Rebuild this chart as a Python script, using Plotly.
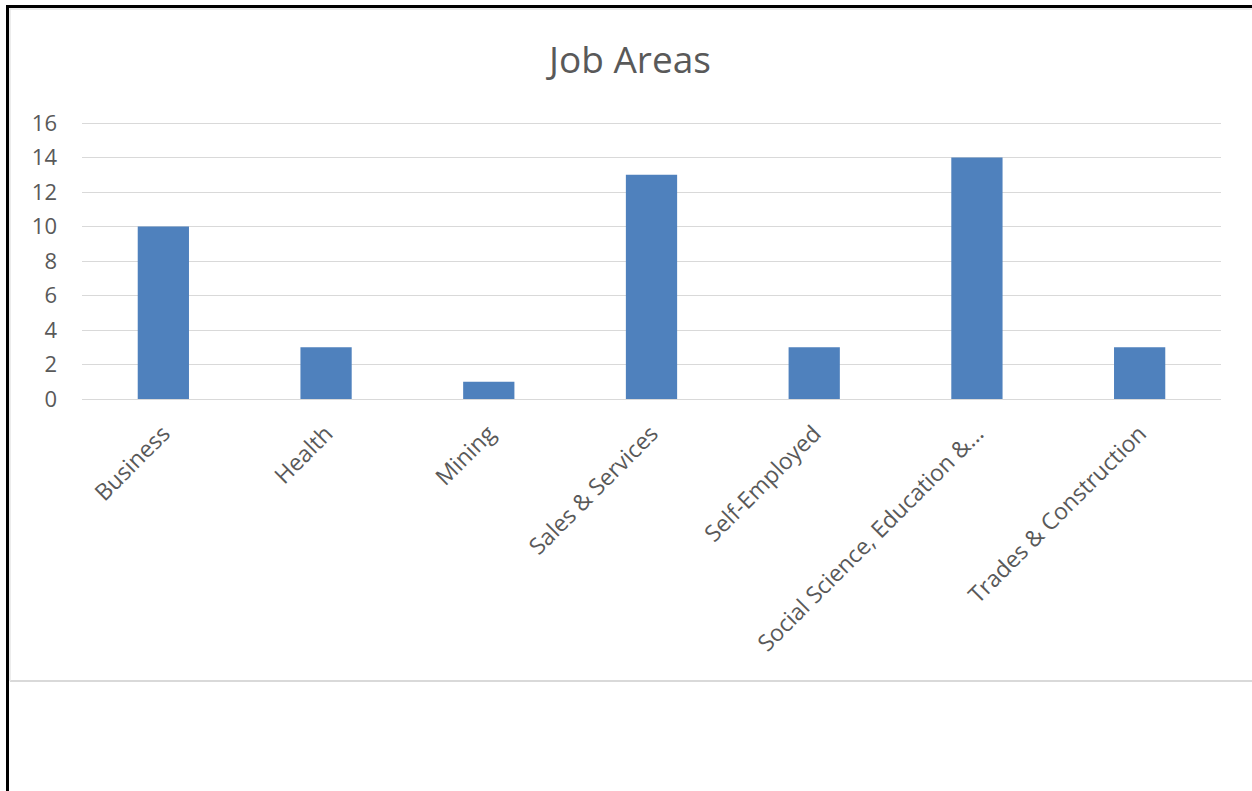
import plotly.graph_objects as go

categories = ["Business", "Health", "Mining", "Sales & Services", "Self-Employed",
              "Social Science, Education &...", "Trades & Construction"]
values = [10, 3, 1, 13, 3, 14, 3]
y_ticks = [0, 2, 4, 6, 8, 10, 12, 14, 16]

W, H = 1252, 791
L, R, T, B = 82, 1221, 121, 399  # plot area in pixels
Y_TOP = 16 + (123 - T) / ((B - 123) / 16)  # so that 16 sits at pixel 123
FONT = "Open Sans, Lato, sans-serif"


def px(x):
    return (x - L) / (R - L)


def py(y):
    return (B - y) / (B - T)


fig = go.Figure(go.Bar(x=categories, y=values, marker_color="#4f81bd",
                       marker_line_width=0))

shapes = [
    dict(type="line", xref="paper", yref="paper", x0=px(10), x1=px(1260), y0=py(681), y1=py(681),
         line=dict(color="#d9d9d9", width=2)),
    dict(type="line", xref="paper", yref="paper", x0=px(10), x1=px(10), y0=py(8), y1=py(681),
         line=dict(color="#e6e6e6", width=1.5)),
    dict(type="line", xref="paper", yref="paper", x0=px(10), x1=px(1260), y0=py(9), y1=py(9),
         line=dict(color="#e6e6e6", width=1.5)),
    dict(type="line", xref="paper", yref="paper", x0=px(7.5), x1=px(7.5), y0=py(5), y1=py(800),
         line=dict(color="#000000", width=3)),
    dict(type="line", xref="paper", yref="paper", x0=px(6), x1=px(1260), y0=py(6.5), y1=py(6.5),
         line=dict(color="#000000", width=3)),
]

fig.update_layout(
    width=W, height=H,
    margin=dict(l=L, r=W - R, t=T, b=H - B, autoexpand=False),
    paper_bgcolor="white", plot_bgcolor="white",
    title=dict(text="Job Areas", x=px(630), xanchor="center", xref="paper",
               y=1 - 60 / H, yanchor="middle",
               font=dict(family=FONT, size=37, color="#595959")),
    bargap=0.685,
    font=dict(family=FONT, size=22, color="#595959"),
    xaxis=dict(tickangle=-45, showgrid=False, showline=True, linecolor="#d9d9d9", linewidth=1,
               ticks="", ticklabelstandoff=11, tickfont=dict(size=23, color="#595959")),
    yaxis=dict(range=[0, Y_TOP], tickvals=y_ticks, showgrid=True, gridcolor="#d9d9d9", gridwidth=1,
               zeroline=False, showline=False, ticks="", ticklabelstandoff=24,
               tickfont=dict(size=22, color="#595959")),
    shapes=shapes,
    showlegend=False,
)

fig.write_html("out.html", config={"displayModeBar": False},
               post_script="document.body.style.margin='0';")
